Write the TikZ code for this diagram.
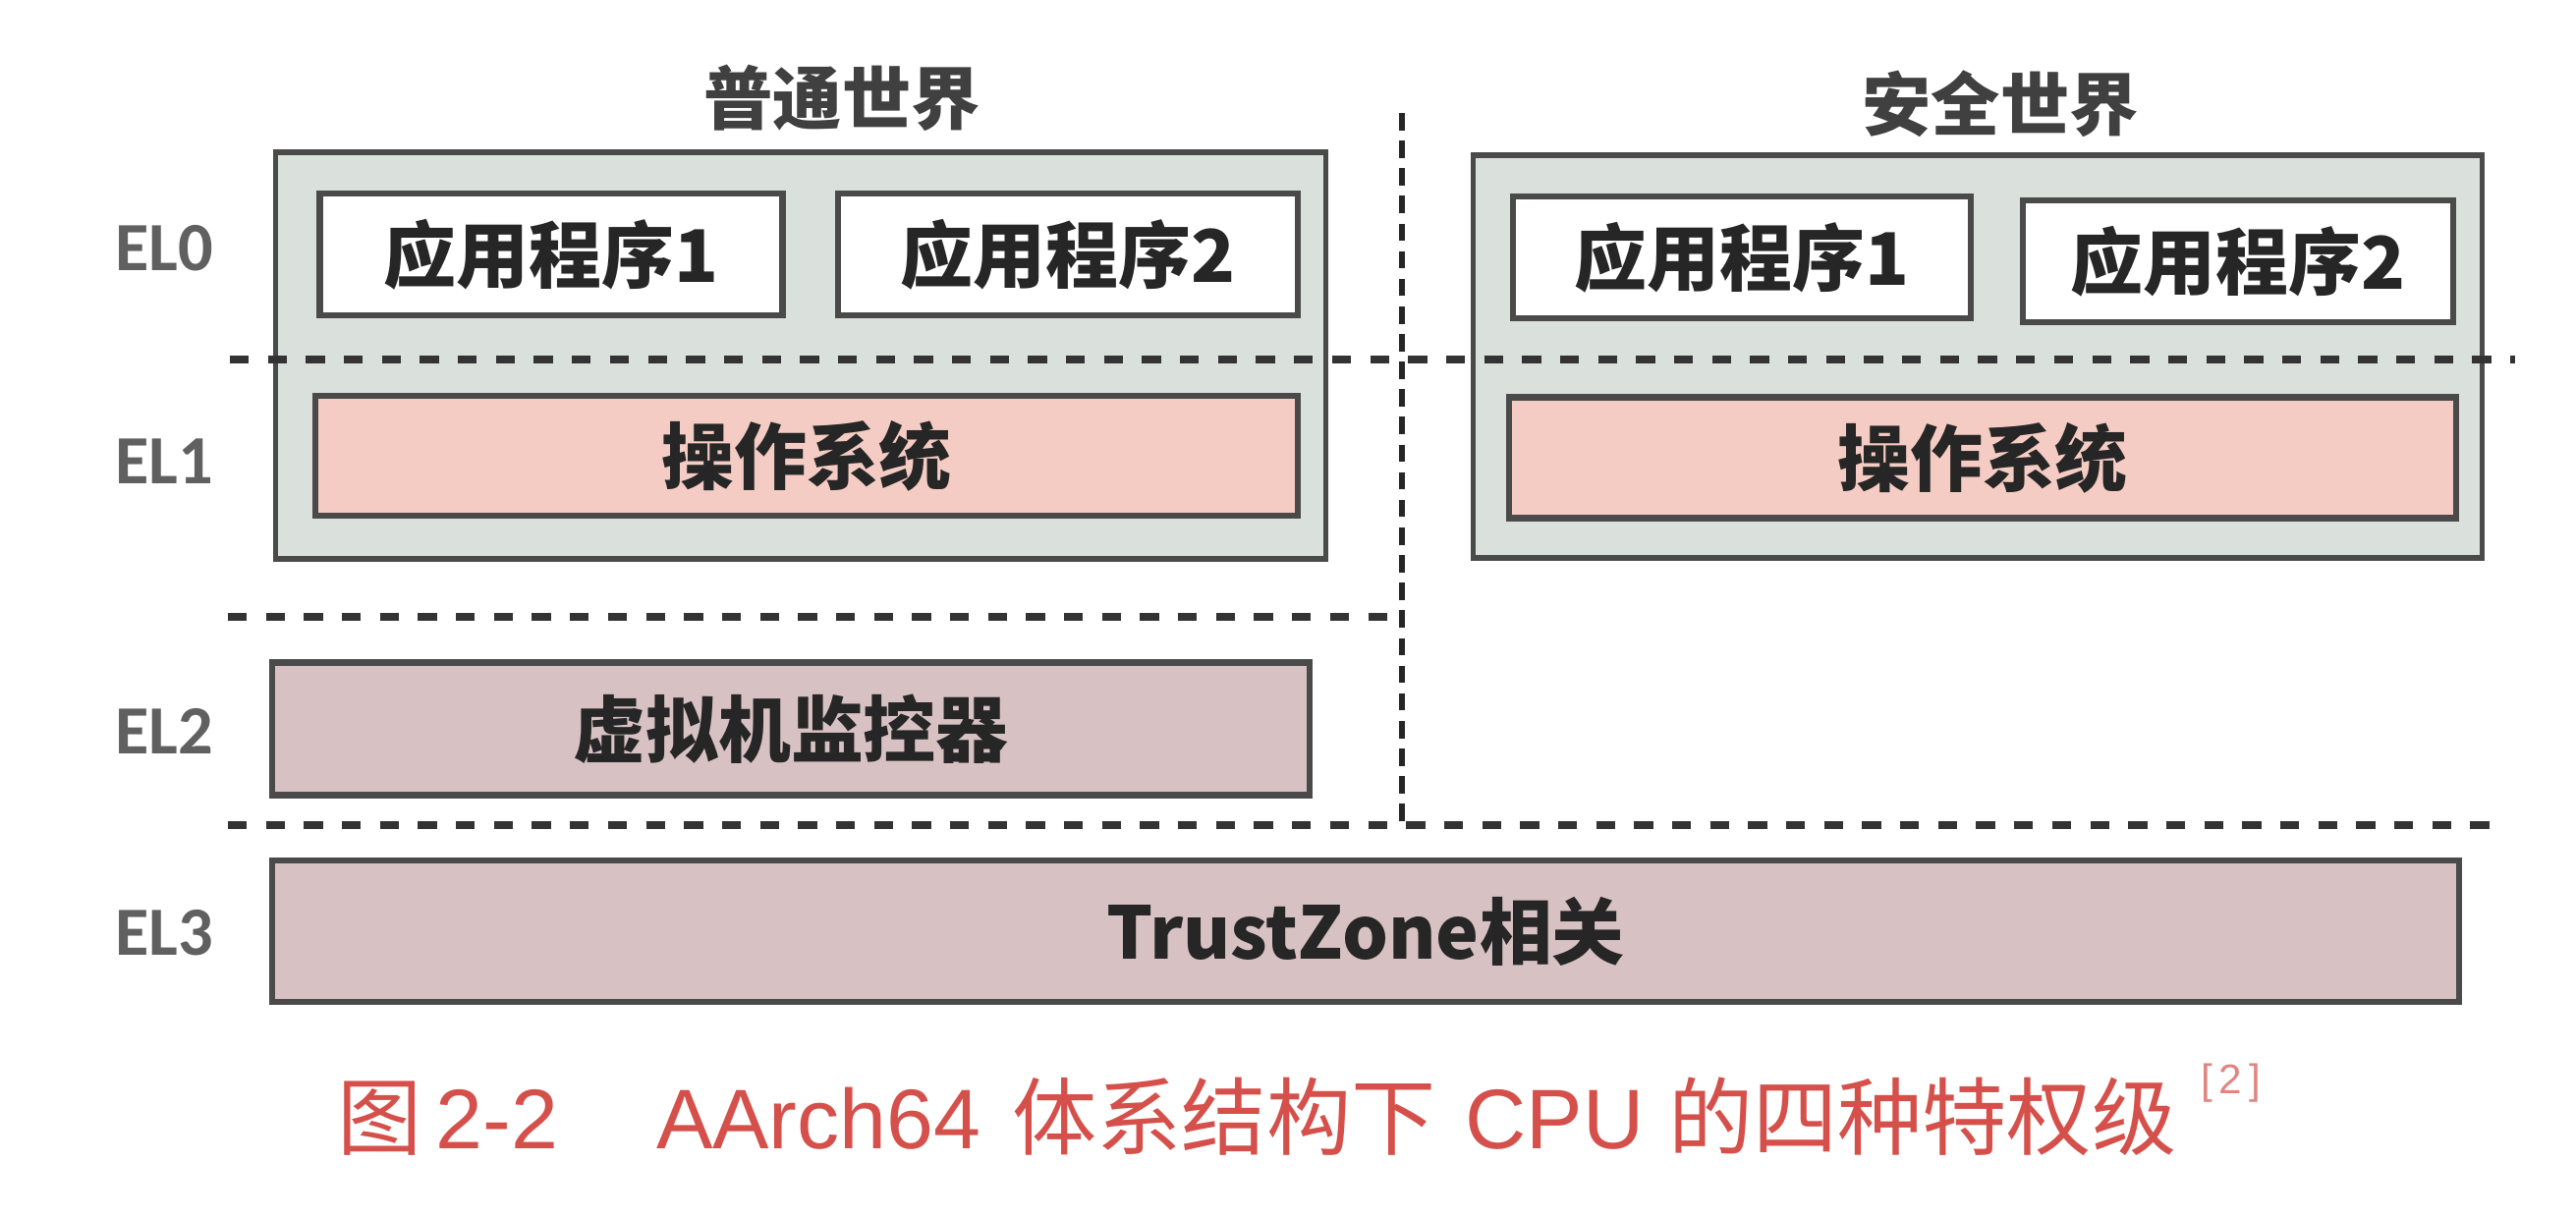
\documentclass[tikz,border=0pt]{standalone}
\usepackage{fontspec}
\usepackage{tikz}
\usetikzlibrary{positioning}
\newfontfamily\cjk{Noto Sans CJK SC}
\newfontfamily\arial{Liberation Sans}
\newfontfamily\carlito{Carlito}
\definecolor{boxline}{HTML}{4A4A4A}
\definecolor{worldfill}{HTML}{DAE0DC}
\definecolor{osfill}{HTML}{F5CCC3}
\definecolor{lowfill}{HTML}{D8C1C3}
\definecolor{elgray}{HTML}{606060}
\definecolor{capred}{HTML}{D5504A}

\begin{document}
\begin{tikzpicture}[
  x=0.01cm,y=-0.01cm,
  world/.style={draw=boxline,fill=worldfill,line width=1.5pt},
  app/.style={draw=boxline,fill=white,line width=1.8pt,minimum height=1.24cm,font=\cjk\bfseries\fontsize{21}{25}\selectfont,text=black!85},
  os/.style={app,fill=osfill},
  low/.style={app,fill=lowfill},
  title/.style={font=\cjk\bfseries\fontsize{20}{24}\selectfont,text=black!75},
  level/.style={font=\carlito\bfseries\fontsize{20}{24}\selectfont,text=elgray},
  levelline/.style={draw=black!80,line width=2.2pt,dash pattern=on 5.5pt off 5.5pt},
  worldline/.style={draw=black!85,line width=1.7pt,dash pattern=on 5pt off 3pt}]
      \tikzstyle{every node}=[inner sep=0pt,outer sep=0pt]
      \useasboundingbox (0,0) rectangle (2622,1239);

     \node [title] (nwtitle) at (857,100) {普通世界};
     \node [title] (swtitle) at (2036,106) {安全世界};

     \node [world,minimum width=10.69cm,minimum height=4.14cm] (nw) at (815,362) {};
     \node [world,minimum width=10.26cm,minimum height=4.10cm] (sw) at (2013,363) {};

     \node [app,minimum width=4.71cm] (nwapp1) at (561,259) {应用程序1};
     \node [app,minimum width=4.68cm] (nwapp2) at (1087,259) {应用程序2};
     \node [os,minimum width=10.0cm,minimum height=1.22cm] (nwos) at (821,464) {操作系统};

     \node [app,minimum width=4.66cm] (swapp1) at (1773,262) {应用程序1};
     \node [app,minimum width=4.38cm] (swapp2) at (2278,266) {应用程序2};
     \node [os,minimum width=9.64cm,minimum height=1.23cm] (swos) at (2018,466) {操作系统};

     \node [low,minimum width=10.55cm,minimum height=1.35cm] (hyp) at (805,742) {虚拟机监控器};
     \node [low,minimum width=22.25cm,minimum height=1.44cm] (tz) at (1390,948) {TrustZone相关};

     \node [level] (el0) at (167,253) {EL0};
     \node [level] (el1) at (167,470) {EL1};
     \node [level] (el2) at (167,744) {EL2};
     \node [level] (el3) at (167,950) {EL3};

     \coordinate (l01a) at (234,366);
     \coordinate (l01b) at (2560,366);
     \coordinate (l12a) at (232,628);
     \coordinate (l12b) at (1427,628);
     \coordinate (l23a) at (232,840);
     \coordinate (l23b) at (2550,840);
     \coordinate (vtop) at (1427,115);
     \coordinate (vbot) at (1427,840);

     \draw [levelline] (l01a) -- (l01b);
     \draw [levelline] (l12a) -- (l12b);
     \draw [levelline] (l23a) -- (l23b);
     \draw [worldline] (vtop) -- (vbot);

     \node [anchor=west,text=capred,font=\cjk\fontsize{24.5}{29}\selectfont] (cap) at (343,1137)
	{图\,{\arial 2-2}\hspace{1.0cm}{\arial AArch64}\hspace{0.32cm}体系结构下\hspace{0.3cm}{\arial CPU}\hspace{0.25cm}的四种特权级};
     \node [anchor=south west,text=capred!70,font=\arial\fontsize{12}{14}\selectfont] (capref) at (2240,1122) {[\,2\,]};

  \end{tikzpicture}
\end{document}
